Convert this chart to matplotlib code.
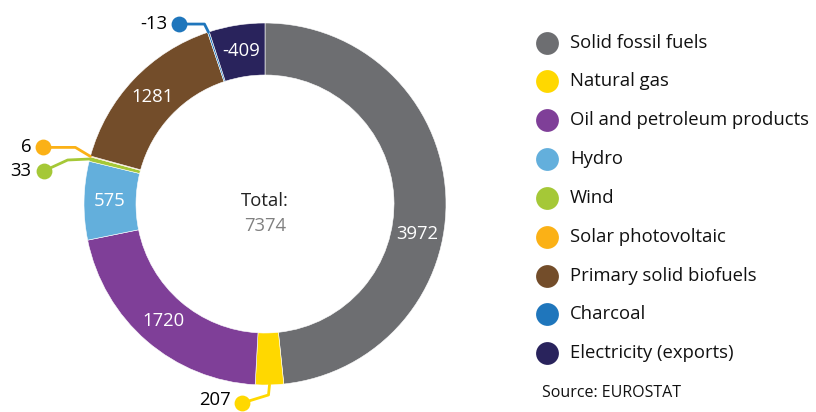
import numpy as np
import matplotlib.pyplot as plt

plt.rcParams['font.family'] = ['Open Sans', 'DejaVu Sans']

categories = ['Solid fossil fuels', 'Natural gas', 'Oil and petroleum products', 'Hydro',
              'Wind', 'Solar photovoltaic', 'Primary solid biofuels', 'Charcoal',
              'Electricity (exports)']
values = [3972, 207, 1720, 575, 33, 6, 1281, -13, -409]
total = 7374
colors = ['#6d6e71', '#ffd800', '#7f3f98', '#63afdc', '#a5c837', '#fbb116',
          '#734d2a', '#1f76bc', '#29235c']
inside = [True, False, True, True, False, False, True, False, True]

# canvas in pixels, y up
W, H = 816, 412
cx, cy = 265, 208
R, width = 181, 52
fs = 13.3

fig = plt.figure(figsize=(W / 100, H / 100), dpi=100)
ax = fig.add_axes([0, 0, 1, 1])
ax.pie(np.abs(values), colors=colors, startangle=90, counterclock=False,
       radius=R, center=(cx, cy),
       wedgeprops=dict(width=width, edgecolor='white', linewidth=0.4))
ax.set_xlim(0, W)
ax.set_ylim(0, H)
ax.set_aspect('equal')
ax.axis('off')

absv = np.abs(values)
ends = np.cumsum(absv) / absv.sum() * 360
starts = ends - absv / absv.sum() * 360
mids = (starts + ends) / 2


def pt(theta, r):
    t = np.radians(theta)
    return cx + r * np.sin(t), cy + r * np.cos(t)


# label nudges (deg) for inside labels
nudge = {0: 14}
for i, v in enumerate(values):
    if inside[i]:
        x, y = pt(mids[i] + nudge.get(i, 0), R - width / 2)
        ax.text(x, y, str(v), color='white', fontsize=fs, ha='center', va='center')

# leader lines for small slices: (elbow offset, dot offset, label y shift)
leaders = {
    1: ((-1, -10), (-27, -18), 3),
    4: ((-22, -1), (-46, -12), 0),
    5: ((-15, 9), (-47, 9), 0),
    7: ((-4, 8), (-29, 8), 0),
}
for i, (elb, dot, sh) in leaders.items():
    x0, y0 = pt(mids[i], R)
    xs = [x0, x0 + elb[0], x0 + dot[0]]
    ys = [y0, y0 + elb[1], y0 + dot[1]]
    ax.plot(xs, ys, color=colors[i], lw=2, solid_capstyle='round', zorder=3)
    ax.scatter(xs[-1], ys[-1], s=130, color=colors[i], zorder=4, linewidths=0)
    ax.text(xs[-1] - 12, ys[-1] + sh, str(values[i]), color='black', fontsize=fs,
            ha='right', va='center')

ax.text(cx, cy + 3, 'Total:', color='#222222', fontsize=fs, ha='center', va='center')
ax.text(cx, cy - 22, str(total), color='#808080', fontsize=fs, ha='center', va='center')

# legend
ly0, dy = H - 42.5, 38.85
for i, c in enumerate(categories):
    y = ly0 - i * dy
    ax.scatter(547, y, s=270, color=colors[i], linewidths=0)
    ax.text(570, y, c, color='#111111', fontsize=fs, va='center', ha='left')

ax.text(542, H - 393, 'Source: EUROSTAT', color='#111111', fontsize=11.5, va='center', ha='left')

fig.savefig('out.png', dpi=100)
